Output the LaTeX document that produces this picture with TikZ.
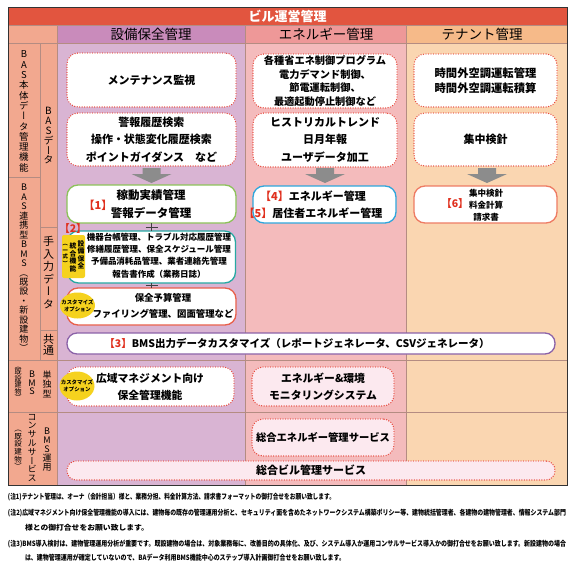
\documentclass[tikz,border=0pt]{standalone}
\usepackage{fontspec}
\usepackage{graphicx}
\setmainfont{Noto Sans CJK JP}
\newfontfamily\vjp[RawFeature=+vert]{Noto Sans CJK JP}
\usetikzlibrary{calc,shapes.geometric}
\newcommand{\fs}[2]{\fontsize{#1}{#2}\selectfont}
\newcommand{\fnl}[2]{\resizebox{#1}{\height}{#2}}
\definecolor{titlered}{HTML}{E2553F}
\definecolor{lab}{HTML}{F2A88F}
\definecolor{hpur}{HTML}{C98BBB}
\definecolor{cpur}{HTML}{D9B4D3}
\definecolor{hpink}{HTML}{EE9898}
\definecolor{cpink}{HTML}{F4BBBC}
\definecolor{hora}{HTML}{F6BA89}
\definecolor{cora}{HTML}{FAD6B1}
\definecolor{gridc}{HTML}{B48C82}
\definecolor{dotred}{HTML}{E8493D}
\definecolor{lpink}{HTML}{FCE9EF}
\definecolor{bgreen}{HTML}{8DC25A}
\definecolor{bteal}{HTML}{27A9A3}
\definecolor{bred}{HTML}{E8604B}
\definecolor{bblue}{HTML}{2FA6DC}
\definecolor{bsal}{HTML}{EE7B63}
\definecolor{bpur}{HTML}{8B62A8}
\definecolor{yel}{HTML}{F5D21E}
\definecolor{nred}{HTML}{E0301E}
\definecolor{arrg}{HTML}{8C8C8C}
\begin{document}
\begin{tikzpicture}[x=1pt,y=-1pt,
  every node/.style={inner sep=0pt,outer sep=0pt},
  dotbox/.style={draw=dotred,line width=1.4pt,dash pattern=on 0pt off 2.5pt,line cap=round,rounded corners=11pt,fill=white},
  solbox/.style={line width=1.3pt,rounded corners=11pt,fill=white},
  btxt/.style={align=center,font=\bfseries\fs{11}{17.5}},
  hfont/.style={font=\fs{13.5}{13.5}},
  vlab/.style={align=center},
  conn/.style={draw=black!75,line width=0.9pt},
  gline/.style={draw=gridc,line width=0.6pt},
  redlab/.style={text=nred,font=\bfseries\fs{11}{11}},
  yelell/.style={ellipse,fill=yel,minimum width=35pt,minimum height=26pt},
  cust/.style={align=center,font=\bfseries\fs{5.4}{7}},
  fnote/.style={anchor=west,font=\bfseries\fs{7.3}{7.3}},
  garrow/.pic={\fill[arrg] (-9,0) -- (9,0) -- (9,6) -- (20,6) -- (0,15) -- (-20,6) -- (-9,6) -- cycle;}
]
\useasboundingbox (0,0) rectangle (574,563);
% backgrounds
\fill[lab] (8,25) rectangle (57,485);
\fill[hpur] (57,25) rectangle (245,43);
\fill[hpink] (245,25) rectangle (406,43);
\fill[hora] (406,25) rectangle (567,43);
\fill[cpur] (57,43) rectangle (245,485);
\fill[cpink] (245,43) rectangle (406,485);
\fill[cora] (406,43) rectangle (567,485);
\fill[titlered] (8,7) rectangle (567,25);
% grid
\draw[gline] (8,25) -- (567,25);
\draw[gline] (8,43) -- (567,43);
\draw[gline] (8,360) -- (567,360);
\draw[gline] (8,412) -- (567,412);
\draw[gline] (57,25) -- (57,485);
\draw[gline] (245,25) -- (245,485);
\draw[gline] (406,25) -- (406,485);
\draw[gline] (40,43) -- (40,360);
\draw[gline] (8,177) -- (40,177);
\draw[gline] (40,227) -- (57,227);
\draw[gline] (40,330) -- (57,330);
\draw[black!80,line width=0.8pt] (8,7) rectangle (567,485);
% title and headers
\node[font=\bfseries\fs{13}{13},text=white] (title) at (287.5,16) {ビル運営管理};
\node[hfont] (h1) at (151,34) {設備保全管理};
\node[hfont] (h2) at (326,34) {エネルギー管理};
\node[hfont] (h3) at (482,34) {テナント管理};
% left labels
\node[vlab,font=\vjp\fs{9.5}{10.3}] (l1) at (24,111.5) {B\\A\\S\\本\\体\\デ\\ー\\タ\\管\\理\\機\\能};
\node[vlab,font=\vjp\fs{9}{9.45}] (l2) at (24,268) {B\\A\\S\\連\\携\\型\\B\\M\\S\\︵\\既\\設\\・\\新\\設\\建\\物\\︶};
\node[vlab,font=\vjp\fs{10}{9.8}] (l3) at (48.5,136) {B\\A\\S\\デ\\ー\\タ};
\node[vlab,font=\vjp\fs{11}{12.5}] (l4) at (48.5,272.5) {手\\入\\力\\デ\\ー\\タ};
\node[vlab,font=\vjp\fs{11}{11.5}] (l5) at (48.5,345) {共\\通};
\node[vlab,font=\vjp\fs{9}{9.5}] (l6) at (47,384) {単\\独\\型};
\node[vlab,font=\vjp\fs{9}{8.5}] (l7) at (32,383) {B\\M\\S};
\node[vlab,font=\vjp\fs{7}{6.5}] (l8) at (18,384) {︵\\既\\設\\建\\物\\︶};
\node[vlab,font=\vjp\fs{9}{9}] (l9) at (47,450) {B\\M\\S\\運\\用};
\node[vlab,font=\vjp\fs{9}{8.8}] (l10) at (32,448) {コ\\ン\\サ\\ル\\サ\\ー\\ビ\\ス};
\node[vlab,font=\vjp\fs{7.5}{7.7}] (l11) at (18,450) {︵\\既\\設\\建\\物\\︶};
% row 1 boxes
\node[dotbox,minimum width=169pt,minimum height=54pt,btxt] (m1) at (151.5,80) {メンテナンス監視};
\node[dotbox,minimum width=169pt,minimum height=53pt,btxt] (m2) at (151.5,139.5) {警報履歴検索\\操作・状態変化履歴検索\\ポイントガイダンス　など};
\node[dotbox,minimum width=144pt,minimum height=54pt,align=center,font=\bfseries\fs{10.2}{13.5}] (e1) at (325,81) {各種省エネ制御プログラム\\電力デマンド制御、\\節電運転制御、\\最適起動停止制御など};
\node[dotbox,minimum width=144pt,minimum height=54pt,btxt] (e2) at (325,140) {ヒストリカルトレンド\\日月年報\\ユーザデータ加工};
\node[dotbox,minimum width=143pt,minimum height=53pt,align=center,font=\bfseries\fs{11.3}{15}] (t1) at (485.5,80.5) {時間外空調運転管理\\時間外空調運転積算};
\node[dotbox,minimum width=143pt,minimum height=53pt,btxt] (t2) at (485.5,139.5) {集中検針};
% grey arrows
\pic at (151.5,168) {garrow};
\pic at (325,168) {garrow};
\pic at (487,168) {garrow};
% row 2 boxes
\node[solbox,draw=bgreen,minimum width=169pt,minimum height=38pt] (b1) at (151.5,204) {};
\node[align=center,font=\bfseries\fs{11.5}{18}] (b1t) at (151,204) {稼動実績管理\\警報データ管理};
\node[redlab] (n1) at (98,205) {【1】};
\node[solbox,draw=bteal,minimum width=168pt,minimum height=52pt] (b2) at (151.5,257) {};
\node[align=center,font=\bfseries\fs{8.5}{12.4}] (b2t) at (159,255.5) {機器台帳管理、トラブル対応履歴管理\\修繕履歴管理、保全スケジュール管理\\予備品消耗品管理、業者連絡先管理\\報告書作成（業務日誌）};
\node[solbox,draw=bred,minimum width=169pt,minimum height=37pt] (b3) at (151.5,306.5) {};
\node[align=center,font=\bfseries\fs{9.4}{16}] (b3t) at (163,306) {保全予算管理\\ファイリング管理、図面管理など};
% connectors
\coordinate (x1) at ($(b1.south)!0.5!(b2.north)$);
\coordinate (x2) at ($(b2.south)!0.5!(b3.north)$);
\draw[conn] (b1.south) -- (b2.north);
\draw[conn] ([xshift=-6pt]x1) -- ([xshift=6pt]x1);
\draw[conn] (b2.south) -- (b3.north);
\draw[conn] ([xshift=-6pt]x2) -- ([xshift=6pt]x2);
% yellow label [2]
\node[fill=yel,rounded corners=2pt,minimum width=23pt,minimum height=43pt] (y2) at (73.5,256.5) {};
\node[vlab,font=\vjp\bfseries\fs{6.8}{7.5}] (y2a) at (81,255) {設\\備\\保\\全};
\node[vlab,font=\vjp\bfseries\fs{6.8}{7.5}] (y2b) at (73,257.5) {統\\合\\機\\能};
\node[vlab,font=\vjp\bfseries\fs{5.3}{6.6}] (y2c) at (65.3,255) {︵\\一\\式\\︶};
\node[redlab,font=\bfseries\fs{10.5}{10.5}] (n2) at (73,229) {【2】};
% custom option circle 1
\node[yelell] (c1) at (77.5,305.5) {};
\node[cust] (c1t) at (c1) {カスタマイズ\\オプション};
% energy / tenant row 2
\node[solbox,draw=bblue,minimum width=143pt,minimum height=37pt] (b45) at (324.5,204.5) {};
\node[align=center,font=\bfseries\fs{11}{17}] (b45t) at (313,204.5) {{\color{nred}【4】}エネルギー管理\\{\color{nred}【5】}居住者エネルギー管理};
\node[solbox,draw=bsal,minimum width=143pt,minimum height=37pt] (b6) at (485.5,204.5) {};
\node[align=center,font=\bfseries\fs{8.5}{12}] (b6t) at (486,205) {集中検針\\料金計算\\請求書};
\node[redlab,font=\bfseries\fs{10.5}{10.5}] (n6) at (455,204) {【6】};
% common row
\node[solbox,draw=bpur,rounded corners=10pt,minimum width=488pt,minimum height=21pt] (bc) at (311,343.5) {};
\node[font=\bfseries\fs{10.5}{10.5}] (bct) at (297,343.5) {{\color{nred}【3】}BMS出力データカスタマイズ（レポートジェネレータ、CSVジェネレータ）};
% standalone row
\node[dotbox,minimum width=167pt,minimum height=39pt] (s1) at (150.5,386.5) {};
\node[align=center,font=\bfseries\fs{10.8}{17}] (s1t) at (150,386.5) {広域マネジメント向け\\保全管理機能};
\node[yelell,minimum height=29pt] (c2) at (77,386) {};
\node[cust] (c2t) at (c2) {カスタマイズ\\オプション};
\node[dotbox,fill=lpink,minimum width=142pt,minimum height=39pt,align=center,font=\bfseries\fs{10.8}{17}] (s2) at (323,386.5) {エネルギー\&環境\\モニタリングシステム};
% consulting row
\node[dotbox,fill=lpink,minimum width=142pt,minimum height=37pt,font=\bfseries\fs{10.3}{10.3}] (k1) at (323,437.5) {総合エネルギー管理サービス};
\node[dotbox,fill=lpink,rounded corners=9pt,minimum width=488pt,minimum height=19pt,font=\bfseries\fs{11}{11}] (k2) at (311,470.5) {総合ビル管理サービス};
% footnotes
\node[fnote] (f1) at (8,497) {\fnl{327pt}{(注1)テナント管理は、オーナ（会計担当）様と、業務分担、料金計算方法、請求書フォーマットの御打合せをお願い致します。}};
\node[fnote] (f2) at (8,513) {\fnl{558pt}{(注2)広域マネジメント向け保全管理機能の導入には、建物毎の既存の管理運用分析と、セキュリティ面を含めたネットワークシステム構築ポリシー等、建物統括管理者、各建物の建物管理者、情報システム部門}};
\node[fnote] (f2b) at (25,528) {\fnl{124pt}{様との御打合せをお願い致します。}};
\node[fnote] (f3) at (8,544) {\fnl{558pt}{(注3)BMS導入検討は、建物管理運用分析が重要です。既設建物の場合は、対象業務毎に、改善目的の具体化、及び、システム導入か運用コンサルサービス導入かの御打合せをお願い致します。新設建物の場合}};
\node[fnote] (f3b) at (25,558) {\fnl{320pt}{は、建物管理運用が確定していないので、BAデータ利用BMS機能中心のステップ導入計画御打合せをお願い致します。}};
\end{tikzpicture}
\end{document}
